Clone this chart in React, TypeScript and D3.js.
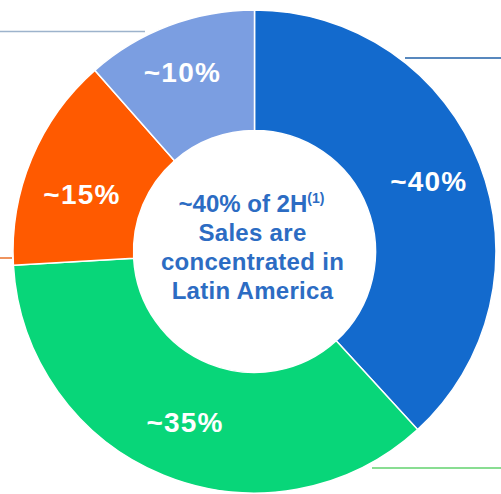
import React from "react";
import * as d3 from "d3";

const categories = ["Latin America", "Region B", "Region C", "Region D"];
const shares = [38.2, 35.9, 14.4, 11.5];
const labels = ["~40%", "~35%", "~15%", "~10%"];
const colors = ["#136ACD", "#08D679", "#FF5A00", "#7B9EE1"];
const centerLines = ["Sales are", "concentrated in", "Latin America"];
// small nudges of the slice labels relative to the arc centroid
const labelNudge = [
  [0, -2],
  [1, -2],
  [0, 15],
  [-6, -4],
];

const W = 501;
const H = 494;
const cx = 254.5;
const cy = 251.5;
const outerR = 241.5;
const innerR = 121;
const labelR = 187;

export default function App() {
  const pie = d3
    .pie<number>()
    .sort(null)
    .value((d) => d)
    .startAngle(0)
    .endAngle(2 * Math.PI);
  const arcs = pie(shares);
  const arc = d3.arc<d3.PieArcDatum<number>>().innerRadius(innerR).outerRadius(outerR);
  const labelArc = d3.arc<d3.PieArcDatum<number>>().innerRadius(labelR).outerRadius(labelR);

  return (
    <svg
      width={W}
      height={H}
      style={{ position: "absolute", left: 0, top: 0, background: "#fff" }}
      fontFamily="'Liberation Sans', Arial, sans-serif"
    >
      {/* leader lines */}
      <line x1={0} x2={145} y1={31.5} y2={31.5} stroke="#9DB3CC" strokeWidth={1.5} />
      <line x1={405} x2={501} y1={58} y2={58} stroke="#2160A8" strokeWidth={1.5} />
      <line x1={0} x2={12} y1={258} y2={258} stroke="#E8702A" strokeWidth={1.5} />
      <line x1={372} x2={501} y1={468} y2={468} stroke="#62D26E" strokeWidth={1.5} />
      <g transform={`translate(${cx},${cy})`}>
        {arcs.map((a, i) => (
          <path key={categories[i]} d={arc(a) || ""} fill={colors[i]} stroke="#fff" strokeWidth={1.5} />
        ))}
        {arcs.map((a, i) => {
          const [x, y] = labelArc.centroid(a);
          return (
            <text
              key={"l" + i}
              x={x + labelNudge[i][0]}
              y={y + labelNudge[i][1]}
              textAnchor="middle"
              dominantBaseline="central"
              fill="#fff"
              fontWeight="bold"
              fontSize={28}
              letterSpacing={1.2}
            >
              {labels[i]}
            </text>
          );
        })}
        <g fill="#2C6CC3" fontWeight="bold" fontSize={24} textAnchor="middle">
          <text x={-3} y={-40}>
            <tspan>~40% of 2H</tspan>
            <tspan fontSize={14} dy={-9}>(1)</tspan>
          </text>
          {centerLines.map((t, i) => (
            <text key={t} x={-2} y={-11 + i * 29} letterSpacing={0.3}>
              {t}
            </text>
          ))}
        </g>
      </g>
    </svg>
  );
}
